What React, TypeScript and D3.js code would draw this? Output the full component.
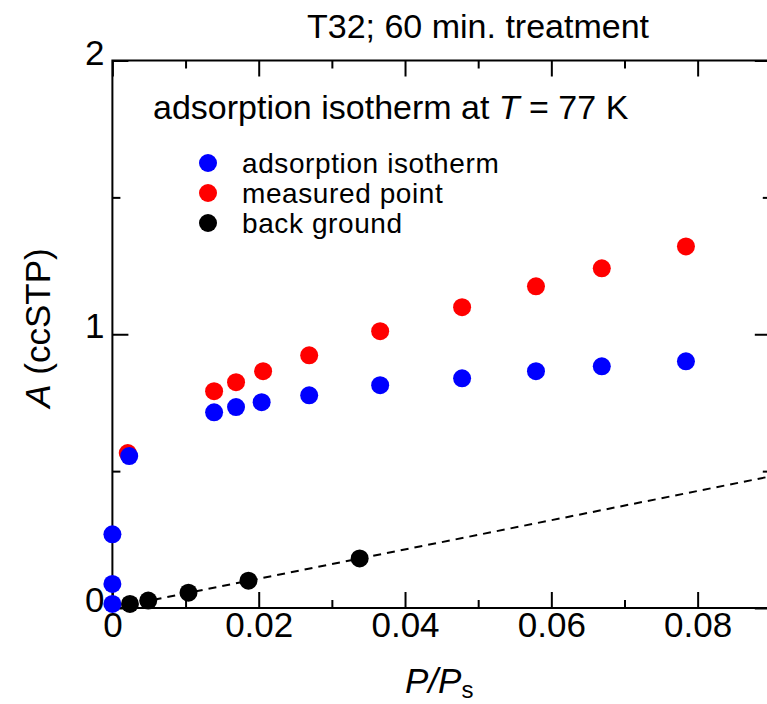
import React, { useRef, useEffect } from "react";
import * as d3 from "d3";

// P/Ps values and adsorbed amount A (ccSTP)
const isoX = [0, 0, 0, 0.0023, 0.0139, 0.0169, 0.0204, 0.0269, 0.0366, 0.0478, 0.0579, 0.0669, 0.0784];
const isoY = [0.015, 0.088, 0.269, 0.555, 0.715, 0.734, 0.752, 0.777, 0.814, 0.839, 0.865, 0.883, 0.901];

const measX = [0.0021, 0.0139, 0.0169, 0.0206, 0.0269, 0.0366, 0.0478, 0.0579, 0.0669, 0.0784];
const measY = [0.566, 0.792, 0.825, 0.865, 0.923, 1.011, 1.099, 1.175, 1.241, 1.321];

const bgX = [0.0024, 0.0049, 0.0104, 0.0186, 0.0338];
const bgY = [0.015, 0.027, 0.056, 0.1, 0.181];

// background fit line (dashed)
const fitX = [0, 0.09];
const fitY = [0, 0.481];

const xMajor = [0, 0.02, 0.04, 0.06, 0.08];
const xMinor = [0.01, 0.03, 0.05, 0.07, 0.09];
const yMajor = [0, 1, 2];
const yMinor = [0.5, 1.5];

const legendLabels = ["adsorption isotherm", "measured point", "back ground"];
const legendColors = ["#0000ff", "#ff0000", "#000000"];

const W = 767;
const H = 704;
const FONT = "'Liberation Sans', Arial, sans-serif";

export default function App() {
  const svgRef = useRef<SVGSVGElement>(null);

  const x = d3.scaleLinear().domain([0, 0.09]).range([112.4, 770.8]);
  const y = d3.scaleLinear().domain([0, 2]).range([608, 60.5]);

  useEffect(() => {
    const svg = d3.select(svgRef.current);
    const axes = svg.select(".axes");
    axes.selectAll("*").remove();

    const fmt = (d: number) => (d === 0 ? "0" : d3.format(".2f")(d));

    const styleAxis = (g: any) => {
      g.select(".domain").remove();
      g.selectAll("line").attr("stroke", "#000").attr("stroke-width", 2);
      g.selectAll("text").attr("font-family", FONT).attr("font-size", 35).attr("fill", "#000");
    };

    // bottom
    axes.append("g").attr("transform", `translate(0,${y(0)})`)
      .call(d3.axisBottom(x).tickValues(xMajor).tickSize(-16).tickPadding(4).tickFormat(fmt as any))
      .call(styleAxis);
    axes.append("g").attr("transform", `translate(0,${y(0)})`)
      .call(d3.axisBottom(x).tickValues(xMinor).tickSize(-8).tickFormat(() => ""))
      .call(styleAxis);
    // top
    axes.append("g").attr("transform", `translate(0,${y(2)})`)
      .call(d3.axisTop(x).tickValues(xMajor).tickSize(-16).tickFormat(() => ""))
      .call(styleAxis);
    axes.append("g").attr("transform", `translate(0,${y(2)})`)
      .call(d3.axisTop(x).tickValues(xMinor).tickSize(-8).tickFormat(() => ""))
      .call(styleAxis);
    // left
    axes.append("g").attr("transform", `translate(${x(0)},0)`)
      .call(d3.axisLeft(y).tickValues(yMajor).tickSize(-16).tickPadding(8).tickFormat(d3.format("d") as any))
      .call(styleAxis)
      .call((g: any) => g.selectAll("text").attr("dy", "0.1em"));
    axes.append("g").attr("transform", `translate(${x(0)},0)`)
      .call(d3.axisLeft(y).tickValues(yMinor).tickSize(-8).tickFormat(() => ""))
      .call(styleAxis);
    // right
    axes.append("g").attr("transform", `translate(${x(0.09)},0)`)
      .call(d3.axisRight(y).tickValues(yMajor).tickSize(-16).tickFormat(() => ""))
      .call(styleAxis);
    axes.append("g").attr("transform", `translate(${x(0.09)},0)`)
      .call(d3.axisRight(y).tickValues(yMinor).tickSize(-8).tickFormat(() => ""))
      .call(styleAxis);
  }, []);

  const fitLine = d3.line<number>().x((d) => x(d)).y((_, i) => y(fitY[i]));

  const dots = (xs: number[], ys: number[], color: string) =>
    xs.map((v, i) => <circle key={color + i} cx={x(v)} cy={y(ys[i])} r={9} fill={color} />);

  return (
    <svg ref={svgRef} width={W} height={H} style={{ position: "absolute", left: 0, top: 0 }} fontFamily={FONT}>
      <rect x={0} y={0} width={W} height={H} fill="#fff" />
      <text x={478} y={38} fontSize={34} textAnchor="middle">T32; 60 min. treatment</text>

      <rect x={x(0)} y={y(2)} width={x(0.09) - x(0)} height={y(0) - y(2)} fill="none" stroke="#000" strokeWidth={2} />
      <g className="axes" />

      <path d={fitLine(fitX) || ""} fill="none" stroke="#000" strokeWidth={2} strokeDasharray="8,6" />

      {dots(bgX, bgY, legendColors[2])}
      {dots(measX, measY, legendColors[1])}
      {dots(isoX, isoY, legendColors[0])}

      <text x={153} y={119} fontSize={34}>
        adsorption isotherm at <tspan fontStyle="italic">T</tspan> = 77 K
      </text>

      {legendLabels.map((l, i) => (
        <g key={l} transform={`translate(208,${163 + i * 30})`}>
          <circle r={9} fill={legendColors[i]} />
          <text x={34} y={10} fontSize={28} letterSpacing={0.6}>{l}</text>
        </g>
      ))}

      <text transform="translate(50,328) rotate(-90)" fontSize={35} textAnchor="middle">
        <tspan fontStyle="italic">A</tspan>{"  (ccSTP)"}
      </text>

      <text x={405} y={693} fontSize={35}>
        <tspan fontStyle="italic">P</tspan>
        <tspan fontStyle="italic">/</tspan>
        <tspan fontStyle="italic">P</tspan>
        <tspan fontSize={24} dy={5}>s</tspan>
      </text>
    </svg>
  );
}
